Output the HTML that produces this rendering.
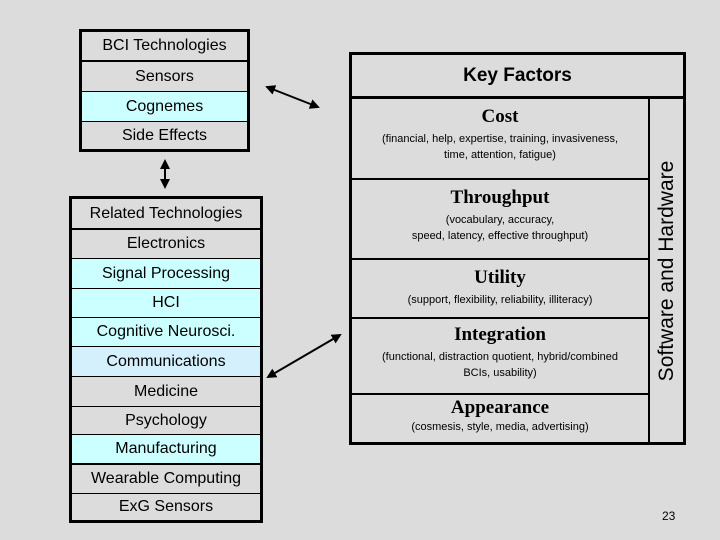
<!DOCTYPE html>
<html><head><style>
body{margin:0;width:720px;height:540px;background:#dcdcdc;position:relative;overflow:hidden;font-family:"Liberation Sans",sans-serif}
.box{position:absolute;border:3px solid #000;box-sizing:border-box}
.r{box-sizing:border-box;border-bottom:1px solid #000;text-align:center;font-size:16px;color:#000;display:flex;align-items:center;justify-content:center}
.r:last-child{border-bottom:none}
.c{background:#ccffff}.b{background:#d4f0fc}
.kf{position:absolute;box-sizing:border-box;text-align:center;border-bottom:2px solid #000}
.kf b{font-family:"Liberation Serif",serif;font-size:19px;display:block;margin-top:7px}
.kf span{font-size:11px;line-height:16px;display:block;margin-top:3px}
</style></head><body>
<div class="box" style="left:79px;top:29px;width:171px;height:123px">
<div class="r" style="height:30px;border-bottom-width:2px">BCI Technologies</div>
<div class="r" style="height:30px">Sensors</div>
<div class="r c" style="height:30px">Cognemes</div>
<div class="r" style="height:27px">Side Effects</div>
</div>
<div class="box" style="left:69px;top:196px;width:194px;height:327px">
<div class="r" style="height:31px;border-bottom-width:2px">Related Technologies</div>
<div class="r" style="height:29px">Electronics</div>
<div class="r c" style="height:30px">Signal Processing</div>
<div class="r c" style="height:29px">HCI</div>
<div class="r c" style="height:29px">Cognitive Neurosci.</div>
<div class="r b" style="height:30px">Communications</div>
<div class="r" style="height:30px">Medicine</div>
<div class="r" style="height:28px">Psychology</div>
<div class="r c" style="height:30px;border-bottom-width:2px">Manufacturing</div>
<div class="r" style="height:29px">Wearable Computing</div>
<div class="r" style="height:26px">ExG Sensors</div>
</div>
<div class="box" style="left:349px;top:52px;width:337px;height:393px">
<div style="position:absolute;left:0;top:0;width:331px;height:44px;border-bottom:3px solid #000;box-sizing:border-box;text-align:center;font-weight:bold;font-size:19px;line-height:42px">Key Factors</div>
<div style="position:absolute;left:296px;top:44px;width:2px;height:343px;background:#000"></div>
<div style="position:absolute;left:298px;top:44px;width:33px;height:343px">
<div style="position:absolute;left:50%;top:50%;transform:translate(-50%,-50%) rotate(-90deg);white-space:nowrap;font-size:21px">Software and Hardware</div></div>
<div class="kf" style="left:0;top:44px;width:296px;height:81px"><b>Cost</b><span>(financial, help, expertise, training, invasiveness,<br>time, attention, fatigue)</span></div>
<div class="kf" style="left:0;top:125px;width:296px;height:80px"><b>Throughput</b><span>(vocabulary, accuracy,<br>speed, latency, effective throughput)</span></div>
<div class="kf" style="left:0;top:205px;width:296px;height:59px"><b>Utility</b><span>(support, flexibility, reliability, illiteracy)</span></div>
<div class="kf" style="left:0;top:264px;width:296px;height:76px"><b style="margin-top:5px">Integration</b><span>(functional, distraction quotient, hybrid/combined<br>BCIs, usability)</span></div>
<div class="kf" style="left:0;top:340px;width:296px;height:47px;border:none"><b style="margin-top:2px">Appearance</b><span style="margin-top:0">(cosmesis, style, media, advertising)</span></div>
</div>
<svg width="720" height="540" style="position:absolute;left:0;top:0">
<defs><marker id="a" markerWidth="10" markerHeight="10" refX="8" refY="5" orient="auto-start-reverse" markerUnits="userSpaceOnUse"><path d="M0,0 L10,5 L0,10 z" fill="#000"/></marker></defs>
<line x1="267" y1="87" x2="318" y2="107" stroke="#000" stroke-width="2" marker-start="url(#a)" marker-end="url(#a)"/>
<line x1="165" y1="161" x2="165" y2="187" stroke="#000" stroke-width="2" marker-start="url(#a)" marker-end="url(#a)"/>
<line x1="268" y1="377" x2="340" y2="335" stroke="#000" stroke-width="2" marker-start="url(#a)" marker-end="url(#a)"/>
</svg>
<div style="position:absolute;left:662px;top:509px;font-size:12px">23</div>
</body></html>
